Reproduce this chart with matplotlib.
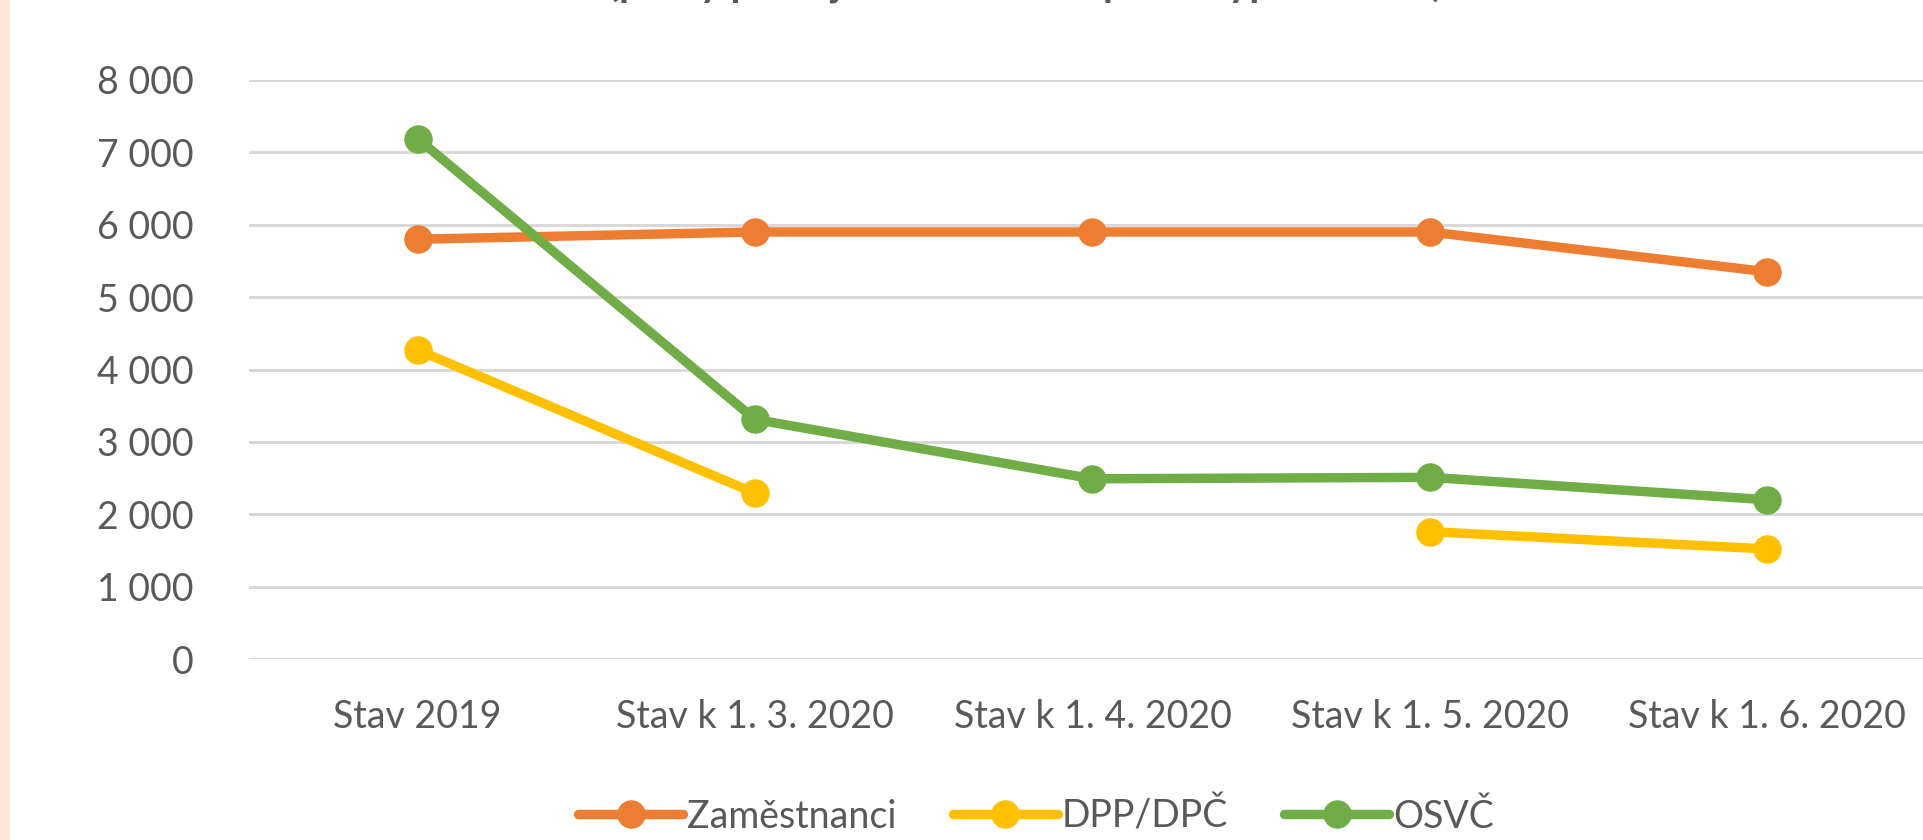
import numpy as np
import matplotlib.pyplot as plt
import matplotlib.patches as mpatches

# data
categories = ['Stav 2019', 'Stav k 1. 3. 2020', 'Stav k 1. 4. 2020',
              'Stav k 1. 5. 2020', 'Stav k 1. 6. 2020']
zamestnanci = [5800, 5900, 5900, 5900, 5350]
dpp_dpc = [4270, 2290, np.nan, 1760, 1520]     # no value for 1. 4. 2020
osvc = [7190, 3310, 2490, 2510, 2200]
y_ticks = [0, 1000, 2000, 3000, 4000, 5000, 6000, 7000, 8000]
y_labels = ['0', '1 000', '2 000', '3 000', '4 000', '5 000', '6 000', '7 000', '8 000']
title = '(počty pracujících v kultuře podle typu úvazku)'

plt.rcParams['font.family'] = ['Lato', 'DejaVu Sans']
text_col = '#595959'

fig = plt.figure(figsize=(19.24, 8.4), dpi=100)
fig.patches.append(mpatches.Rectangle((0, 0), 10 / 1924, 1, transform=fig.transFigure,
                                      facecolor='#FDE7D9', edgecolor='none'))

ax = fig.add_axes([249 / 1924, 1 - 659 / 840, 1687 / 1924, 579 / 840])
x = np.arange(len(categories))
series = [(zamestnanci, '#ED7D31', 'Zaměstnanci'),
          (dpp_dpc, '#FFC000', 'DPP/DPČ'),
          (osvc, '#70AD47', 'OSVČ')]
for vals, col, name in series:
    ax.plot(x, vals, color=col, lw=6.8, marker='o', ms=19.5, label=name,
            solid_capstyle='round', clip_on=False, zorder=3)

ax.set_xlim(-0.5, 4.5)
ax.set_ylim(0, 8000)
ax.set_yticks(y_ticks)
ax.set_yticklabels(y_labels)
ax.set_xticks(x)
ax.set_xticklabels(categories)
ax.grid(axis='y', color='#D9D9D9', lw=2.2)
ax.set_axisbelow(True)
for s in ax.spines.values():
    s.set_visible(False)
ax.tick_params(axis='both', length=0, labelsize=27, labelcolor=text_col)
ax.tick_params(axis='y', pad=40)
ax.tick_params(axis='x', pad=29)

# title is cut off by the top edge, as in the reference
fig.text(1025 / 1924, 1 + 4 / 840, title, ha='center', va='baseline',
         fontsize=29, fontweight='bold', color=text_col)

fig.legend(loc='center', bbox_to_anchor=(1036 / 1924, 24 / 840), ncol=3,
           frameon=False, fontsize=27, labelcolor=text_col, handlelength=2.8,
           handletextpad=0.1, columnspacing=1.5)

fig.savefig('out.png', dpi=100)
